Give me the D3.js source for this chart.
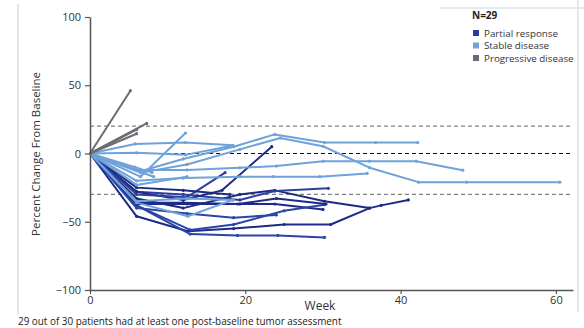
<!DOCTYPE html>
<html><head><meta charset="utf-8">
<script src="https://cdn.jsdelivr.net/npm/d3@7"></script>
<style>
body{margin:0;background:#fff;}
text{font-family:"Open Sans","DejaVu Sans",sans-serif;}
</style></head><body>
<svg id="c" width="584" height="328"></svg>
<script>
// ---- data: [week, percent change] ----
const progressive = [
  [[0,0],[5.2,46]],
  [[0,0],[7.3,22]],
  [[0,0],[6,17.5]],
  [[0,0],[6,14.5]]
];
const stable = [
  [[0,0],[6.5,-13],[12,-4],[18.5,5],[23.8,14],[30.2,8],[36.8,8],[42.2,8]],
  [[0,0],[6.5,-17],[12.3,15]],
  [[0,0],[6.5,-14],[12.5,-8],[19.3,3],[24.5,11.4],[30,5.3],[36,-10.4],[42.3,-21],[48.5,-21],[60.5,-21]],
  [[0,0],[6,-12],[12.5,-12],[19.3,-10.5],[24,-9.2],[30,-5.6],[36,-5.6],[42,-5.6],[48,-12.2]],
  [[0,0],[6,-20],[12,-18],[19.3,-17],[23.6,-17],[29.6,-17],[35.7,-14.6]],
  [[0,0],[5.8,7],[12.3,8],[18.4,6]],
  [[0,0],[6,0.5],[12.3,-1],[18.4,5.8]],
  [[0,0],[8.2,-17]],
  [[0,0],[6,-35],[12.5,-33],[18.4,-34]],
  [[0,0],[6,-36],[12.6,-46],[18.4,-34]],
  [[0,0],[6,-23],[12.5,-17]],
  [[0,0],[5.8,-10],[8,-14]]
];
const partial = [
  [[0,0],[6,-46],[12.6,-57],[18.5,-55],[25,-52],[31,-52],[36,-40],[37.5,-38],[41,-34]],
  [[0,0],[6,-38],[12.9,-59],[19,-60],[24.2,-60],[30.2,-61.5]],
  [[0,0],[6,-33],[12,-40],[19.3,-30],[23.8,-27],[30.2,-35],[36,-40]],
  [[0,0],[6,-28],[12,-30],[19.3,-34],[23.8,-27.5],[30.7,-25.5]],
  [[0,0],[6,-36],[12,-36],[19.3,-37],[23.8,-37],[30,-41]],
  [[0,0],[6,-38],[12.9,-56],[18.5,-52],[25,-42],[30.2,-37.5]],
  [[0,0],[6,-28],[12,-34],[17,-27],[23.4,5]],
  [[0,0],[6,-30],[12.5,-32],[17.4,-14]],
  [[0,0],[6,-37],[12.5,-37],[19,-37],[24,-33],[30.4,-37]],
  [[0,0],[6,-40],[12.5,-44],[18.5,-47],[24,-45]],
  [[0,0],[6,-25],[12,-27],[18,-30]]
];
const yTicks = [100,50,0,-50,-100];
const xTicks = [0,20,40,60];
const refLines = [20,-30];
const legendItems = ["Partial response","Stable disease","Progressive disease"];

// ---- drawing ----
const svg = d3.select("#c");
const x = d3.scaleLinear().domain([0,62.2]).range([90,573]);
const y = d3.scaleLinear().domain([-100,100]).range([290,17]);

// frame
svg.append("line").attr("x1",18).attr("x2",18).attr("y1",4).attr("y2",314).attr("stroke","#c8c8c8").attr("stroke-width",1);
svg.append("line").attr("x1",578).attr("x2",578).attr("y1",0).attr("y2",312).attr("stroke","#d0d0d0").attr("stroke-width",1);
svg.append("line").attr("x1",440).attr("x2",584).attr("y1",8).attr("y2",8).attr("stroke","#e2ebf3").attr("stroke-width",2);

// reference lines
refLines.forEach(v=>{
  svg.append("line").attr("x1",x(0)).attr("x2",x(62.2)).attr("y1",y(v)).attr("y2",y(v))
    .attr("stroke","#808080").attr("stroke-width",1.2).attr("stroke-dasharray","4,3");
});
svg.append("line").attr("x1",x(0)).attr("x2",x(62.2)).attr("y1",y(0)).attr("y2",y(0))
  .attr("stroke","#111").attr("stroke-width",1.2).attr("stroke-dasharray","4,3");

const line = d3.line().x(d=>x(d[0])).y(d=>y(d[1]));
function drawGroup(data, colorFn){
  const g = svg.append("g");
  data.forEach((s,i)=>{
    const c = colorFn(i);
    g.append("path").attr("d",line(s)).attr("fill","none").attr("stroke",c)
      .attr("stroke-width",2).attr("stroke-linejoin","round");
    g.selectAll(null).data(s.slice(1)).enter().append("circle")
      .attr("cx",d=>x(d[0])).attr("cy",d=>y(d[1])).attr("r",1.6).attr("fill",c);
  });
}
const darkShades = ["#1f2a88","#2a45a6","#1c2a80","#2d3f9e"];
drawGroup(partial, i=>darkShades[i%darkShades.length]);
drawGroup(stable, i=>"#6fa2d9");
drawGroup(progressive, i=>"#6b6b70");

// axes
const axColor="#555";
const yAxis = svg.append("g").attr("transform",`translate(${x(0)},0)`)
  .call(d3.axisLeft(y).tickValues(yTicks).tickSize(5).tickSizeOuter(0).tickFormat(d=>d<0?"\u2212"+Math.abs(d):d));
yAxis.select(".domain").attr("stroke",axColor).attr("stroke-width",1.5);
yAxis.selectAll(".tick line").attr("stroke",axColor).attr("stroke-width",1.2);
yAxis.selectAll(".tick text").attr("font-size",11).attr("fill","#333").attr("x",-9).attr("font-family","'Open Sans',sans-serif");

const xAxis = svg.append("g").attr("transform",`translate(0,${y(-100)})`)
  .call(d3.axisBottom(x).tickValues(xTicks).tickSize(4).tickSizeOuter(0));
xAxis.select(".domain").attr("stroke",axColor).attr("stroke-width",1.5);
xAxis.selectAll(".tick line").attr("stroke",axColor).attr("stroke-width",1.2);
xAxis.selectAll(".tick text").attr("font-size",11).attr("fill","#333").attr("y",6).attr("font-family","'Open Sans',sans-serif");

svg.append("text").attr("x",320).attr("y",310).attr("text-anchor","middle")
  .attr("font-size",12).attr("fill","#333").text("Week");
svg.append("text").attr("transform","translate(40,154) rotate(-90)").attr("text-anchor","middle")
  .attr("font-size",11.5).attr("fill","#333").text("Percent Change From Baseline");
svg.append("text").attr("x",18).attr("y",325).attr("font-size",9.9).attr("fill","#222")
  .text("29 out of 30 patients had at least one post-baseline tumor assessment");

// legend
const legColors = ["#2b3d9c","#6fa2d9","#6b6b70"];
svg.append("text").attr("x",472).attr("y",19).attr("font-size",10).attr("font-weight","bold").attr("fill","#222").text("N=29");
legendItems.forEach((t,i)=>{
  const yy = 33 + i*12.5;
  svg.append("rect").attr("x",473).attr("y",yy-3).attr("width",6).attr("height",6).attr("fill",legColors[i]);
  svg.append("text").attr("x",484).attr("y",yy+3.5).attr("font-size",9.8).attr("fill","#333").text(t);
});
</script>
</body></html>
